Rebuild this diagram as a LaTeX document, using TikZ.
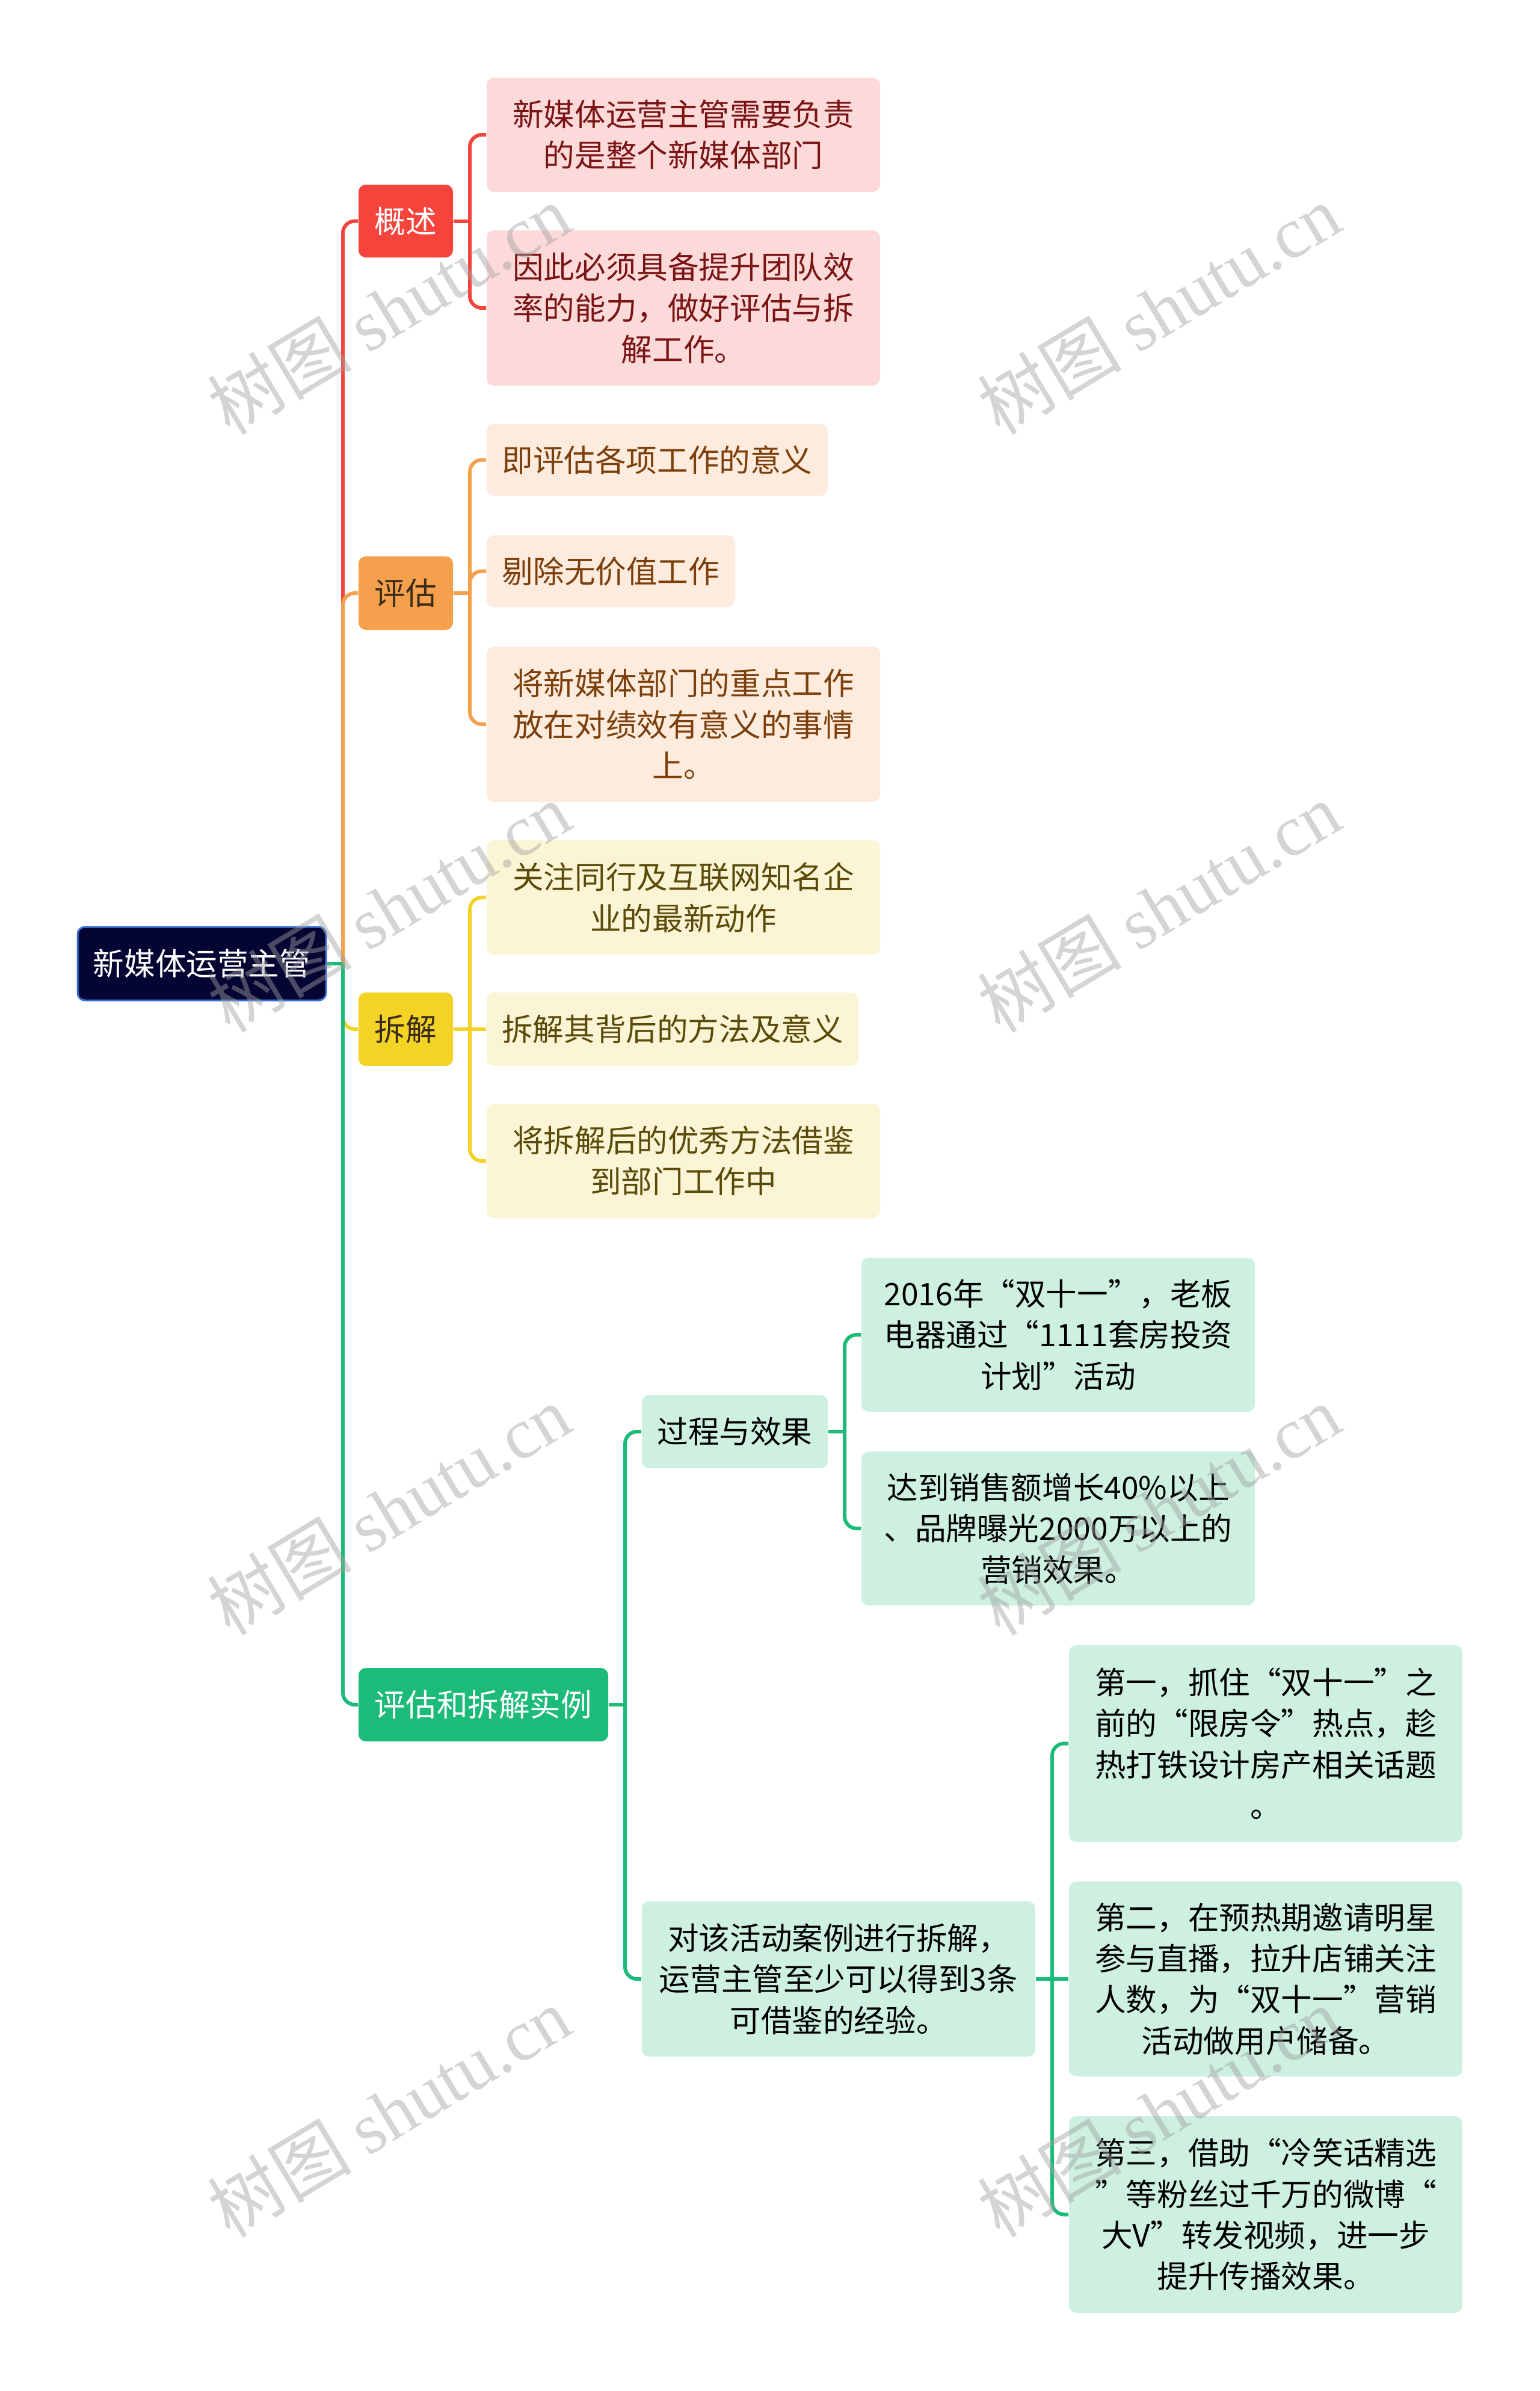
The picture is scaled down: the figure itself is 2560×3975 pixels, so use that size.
\documentclass[tikz,border=0pt]{standalone}
\usepackage{fontspec}
\setmainfont{Noto Sans CJK SC}
\newfontfamily\wmlatin{Liberation Serif}
\definecolor{rootfill}{HTML}{050533}
\definecolor{rootdraw}{HTML}{3B6FD6}
\definecolor{cred}{HTML}{F5443C}
\definecolor{cora}{HTML}{F4A04C}
\definecolor{cyel}{HTML}{F2D326}
\definecolor{cgrn}{HTML}{1DBB7A}
\definecolor{lred}{HTML}{FDDADA}
\definecolor{lora}{HTML}{FDEBDD}
\definecolor{lyel}{HTML}{FBF5D5}
\definecolor{lgrn}{HTML}{CDF0E1}
\definecolor{tred}{HTML}{7A1414}
\definecolor{tora}{HTML}{7C3F0C}
\definecolor{tyel}{HTML}{5A4B0A}
\definecolor{tdark}{HTML}{3A2C18}
\definecolor{wmgray}{HTML}{A0A0A0}
\begin{document}
\begin{tikzpicture}[x=0.25pt,y=-0.25pt,
  every node/.style={inner sep=0pt, align=center, font=\fontsize{12.9pt}{17.1pt}\selectfont},
  sz/.style 2 args={minimum width=#1*0.25pt, minimum height=#2*0.25pt},
  box/.style={rounded corners=3pt},
  rootbox/.style={box, fill=rootfill, draw=rootdraw, line width=0.75pt, text=white},
  conn/.style={line width=1.5pt, rounded corners=5pt},
  wm/.style={text=wmgray, opacity=0.45, rotate=31, font=\fontsize{30pt}{31pt}\selectfont}
]
\fill[white] (0,0) rectangle (2560,3975);
\useasboundingbox (0,0) rectangle (2560,3975);

% ---------- nodes ----------
\node[rootbox, sz={413}{122}] (root) at (335.5,1602) {新媒体运营主管};

\node[box, fill=cred, text=white, sz={157}{121}] (gs) at (674.5,367.5) {概述};
\node[box, fill=cora, text=tdark, sz={157}{122}] (pg) at (674.5,986) {评估};
\node[box, fill=cyel, text=tdark, sz={157}{122}] (cj) at (674.5,1711) {拆解};
\node[box, fill=cgrn, text=white, sz={415}{122}] (sl) at (803.5,2834) {评估和拆解实例};

\node[box, fill=lred, text=tred, sz={654}{190}] (a1) at (1136,224) {新媒体运营主管需要负责\\的是整个新媒体部门};
\node[box, fill=lred, text=tred, sz={654}{258}] (a2) at (1136,512) {因此必须具备提升团队效\\率的能力，做好评估与拆\\解工作。};

\node[box, fill=lora, text=tora, sz={567}{119}] (b1) at (1092.5,764.5) {即评估各项工作的意义};
\node[box, fill=lora, text=tora, sz={413}{119}] (b2) at (1015.5,949.5) {剔除无价值工作};
\node[box, fill=lora, text=tora, sz={654}{258}] (b3) at (1136,1204) {将新媒体部门的重点工作\\放在对绩效有意义的事情\\上。};

\node[box, fill=lyel, text=tyel, sz={654}{190}] (c1) at (1136,1492) {关注同行及互联网知名企\\业的最新动作};
\node[box, fill=lyel, text=tyel, sz={618}{122}] (c2) at (1118,1711) {拆解其背后的方法及意义};
\node[box, fill=lyel, text=tyel, sz={654}{190}] (c3) at (1136,1930) {将拆解后的优秀方法借鉴\\到部门工作中};

\node[box, fill=lgrn, text=black, sz={309}{122}] (d1) at (1221.5,2380) {过程与效果};
\node[box, fill=lgrn, text=black, sz={654}{258}] (d2) at (1394,3290) {对该活动案例进行拆解，\\运营主管至少可以得到3条\\可借鉴的经验。};

\node[box, fill=lgrn, text=black, sz={654}{256}] (e1) at (1759,2219) {2016年“双十一”，老板\\电器通过“1111套房投资\\计划”活动};
\node[box, fill=lgrn, text=black, sz={654}{256}] (e2) at (1759,2541) {达到销售额增长40\%以上\\、品牌曝光2000万以上的\\营销效果。};

\node[box, fill=lgrn, text=black, sz={654}{327}] (f1) at (2104,2898.5) {第一，抓住“双十一”之\\前的“限房令”热点，趁\\热打铁设计房产相关话题\\。};
\node[box, fill=lgrn, text=black, sz={654}{324}] (f2) at (2104,3290) {第二，在预热期邀请明星\\参与直播，拉升店铺关注\\人数，为“双十一”营销\\活动做用户储备。};
\node[box, fill=lgrn, text=black, sz={654}{327}] (f3) at (2104,3681.5) {第三，借助“冷笑话精选\\”等粉丝过千万的微博“\\大V”转发视频，进一步\\提升传播效果。};

% ---------- junction coordinates ----------
\coordinate (t0) at (570,1602);
\coordinate (jg) at (781,367.5);
\coordinate (jp) at (781,986);
\coordinate (jc) at (781,1711);
\coordinate (js) at (1039,2834);
\coordinate (jd1) at (1404,2380);
\coordinate (jd2) at (1749,3290);

% ---------- connectors ----------
\draw[conn, cred] (t0) |- (gs.west);
\draw[conn, cora] (t0) |- (pg.west);
\draw[conn, cyel] (t0) |- (cj.west);
\draw[conn, cgrn] (t0) |- (sl.west);
\draw[conn, cgrn] (root.east) -- (t0);

\draw[conn, cred] (gs.east) -- (jg);
\draw[conn, cred] (jg) |- (a1.west);
\draw[conn, cred] (jg) |- (a2.west);

\draw[conn, cora] (pg.east) -- (jp);
\draw[conn, cora] (jp) |- (b1.west);
\draw[conn, cora] (jp) |- (b2.west);
\draw[conn, cora] (jp) |- (b3.west);

\draw[conn, cyel] (cj.east) -- (jc);
\draw[conn, cyel] (jc) |- (c1.west);
\draw[conn, cyel] (jc) -- (c2.west);
\draw[conn, cyel] (jc) |- (c3.west);

\draw[conn, cgrn] (sl.east) -- (js);
\draw[conn, cgrn] (js) |- (d1.west);
\draw[conn, cgrn] (js) |- (d2.west);

\draw[conn, cgrn] (d1.east) -- (jd1);
\draw[conn, cgrn] (jd1) |- (e1.west);
\draw[conn, cgrn] (jd1) |- (e2.west);

\draw[conn, cgrn] (d2.east) -- (jd2);
\draw[conn, cgrn] (jd2) |- (f1.west);
\draw[conn, cgrn] (jd2) -- (f2.west);
\draw[conn, cgrn] (jd2) |- (f3.west);

% ---------- watermarks ----------
\foreach \wx/\wy/\wn in {646/514/w1, 1926/514/w2, 646/1508/w3, 1926/1508/w4, 646/2510/w5, 1926/2510/w6, 646/3511/w7, 1926/3511/w8}{
  \node[wm] (\wn) at (\wx,\wy) {树图 {\wmlatin shutu.cn}};
}
\end{tikzpicture}
\end{document}
